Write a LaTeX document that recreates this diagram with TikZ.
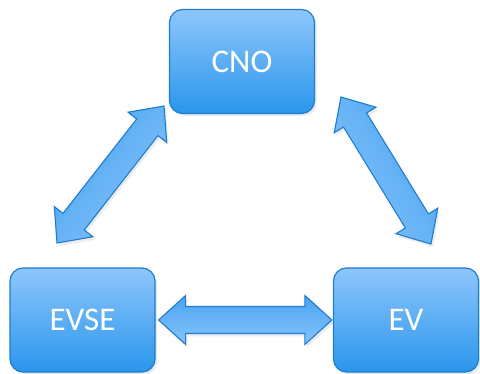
\documentclass[tikz,border=0pt]{standalone}
\usepackage{fontspec}
\setmainfont{Carlito}
\usetikzlibrary{calc,shadows}
\definecolor{boxtop}{HTML}{8EC6FC}
\definecolor{boxbot}{HTML}{2A96EC}
\definecolor{edgeblue}{HTML}{1D7DD0}
\definecolor{arrdark}{HTML}{4AA3F0}
\definecolor{arrlight}{HTML}{86C4FB}
\tikzset{
  box/.style={draw=edgeblue, line width=1.2pt, rounded corners=13pt,
    minimum width=145pt, minimum height=104pt,
    top color=boxtop, bottom color=boxbot, text=white,
    font=\fontsize{33}{36}\selectfont,
    drop shadow={shadow xshift=2pt, shadow yshift=-2.5pt, opacity=0.18}},
  barrow/.style={draw=edgeblue, line width=1.1pt, line join=miter,
    top color=arrdark, bottom color=arrlight,
    drop shadow={shadow xshift=2pt, shadow yshift=-3pt, opacity=0.15}}
}
\newcommand\blockarrow[3]{%
  \coordinate (ba1) at ($(#1)!27pt!(#2)$);
  \coordinate (ba2) at ($(#2)!27pt!(#1)$);
  \path[barrow, shading angle=#3] (#1)
    -- ($(ba1)!24.5pt!90:(#2)$) -- ($(ba1)!13.5pt!90:(#2)$)
    -- ($(ba2)!13.5pt!-90:(#1)$) -- ($(ba2)!24.5pt!-90:(#1)$)
    -- (#2)
    -- ($(ba2)!24.5pt!90:(#1)$) -- ($(ba2)!13.5pt!90:(#1)$)
    -- ($(ba1)!13.5pt!-90:(#2)$) -- ($(ba1)!24.5pt!-90:(#2)$)
    -- cycle;
}
\begin{document}
\begin{tikzpicture}[x=1pt,y=1pt]
  \useasboundingbox (0,0) rectangle (480,374);
  \node[box] (cno) at (242,312.5) {CNO};
  \node[box] (evse) at (82.5,54) {EVSE};
  \node[box] (ev) at (406,54) {EV};
  % connector end points
  \coordinate (l1) at (57,131);
  \coordinate (l2) at (164,268);
  \coordinate (r1) at (341,277);
  \coordinate (r2) at (431,130);
  \coordinate (h1) at ($(evse.east)+(3,0)$);
  \coordinate (h2) at ($(ev.west)+(-1,0)$);
  \blockarrow{l1}{l2}{52}
  \blockarrow{r1}{r2}{-58.5}
  \blockarrow{h1}{h2}{0}
\end{tikzpicture}
\end{document}
